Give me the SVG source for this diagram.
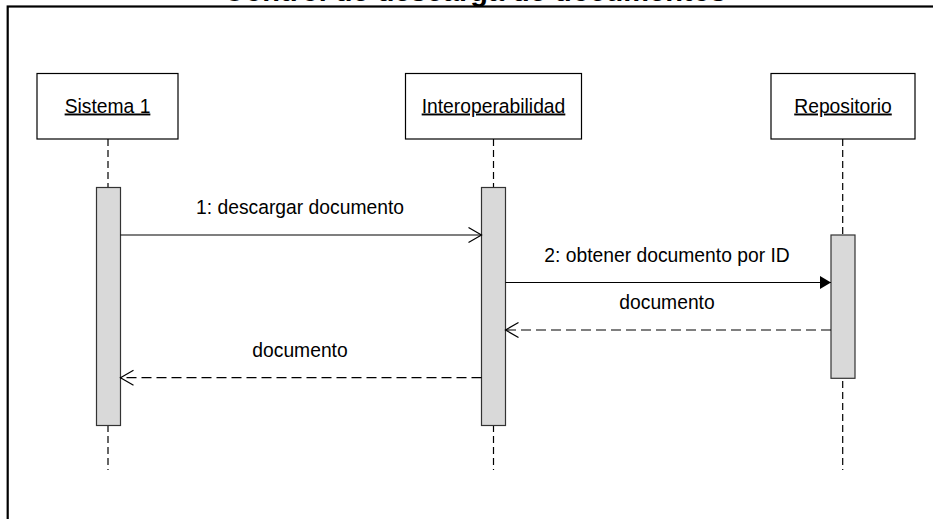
<svg xmlns="http://www.w3.org/2000/svg" width="933" height="519" viewBox="0 0 933 519">
  <style>
    .lbl { font-family: "Liberation Sans", Arial, sans-serif; font-size: 19.3px; fill: #000; }
    .obj { fill: #fff; stroke: #000; stroke-width: 1.2; }
    .life { stroke: #000; stroke-width: 1.2; stroke-dasharray: 7 4; fill: none; }
    .act { fill: #d9d9d9; stroke: #333; stroke-width: 1.2; }
    .msg { stroke: #000; stroke-width: 1.2; fill: none; }
    .ret { stroke: #000; stroke-width: 1.2; fill: none; stroke-dasharray: 10 5; }
  </style>
  <defs>
    <marker id="open" markerWidth="16" markerHeight="18" refX="14" refY="8" orient="auto" markerUnits="userSpaceOnUse">
      <path d="M1,0.5 L14,8 L1,15.5" fill="none" stroke="#000" stroke-width="1.2"/>
    </marker>
    <marker id="solid" markerWidth="14" markerHeight="16" refX="12" refY="7" orient="auto" markerUnits="userSpaceOnUse">
      <path d="M1,0.5 L12,7 L1,13.5 Z" fill="#000"/>
    </marker>
  </defs>

  <rect width="933" height="519" fill="#fff"/>

  <!-- frame and title -->
  <rect x="7.7" y="6.5" width="1000" height="600" fill="none" stroke="#000" stroke-width="2.2"/>
  <text x="475" y="0.5" text-anchor="middle" font-family="'Liberation Sans', Arial, sans-serif" font-weight="bold" font-size="29">Control de descarga de documentos</text>

  <!-- lifelines -->
  <g id="sistema1">
    <line class="life" x1="108" y1="139" x2="108" y2="470"/>
    <rect class="obj" x="37" y="73.5" width="141" height="65.5"/>
    <text class="lbl" x="107.5" y="112.5" text-anchor="middle" text-decoration="underline">Sistema 1</text>
    <rect class="act" x="96.5" y="187.5" width="24" height="238"/>
  </g>
  <g id="interoperabilidad">
    <line class="life" x1="493.5" y1="139" x2="493.5" y2="470"/>
    <rect class="obj" x="405.5" y="73.5" width="176" height="65.5"/>
    <text class="lbl" x="493.5" y="112.5" text-anchor="middle" text-decoration="underline">Interoperabilidad</text>
    <rect class="act" x="481.5" y="187.5" width="24" height="238"/>
  </g>
  <g id="repositorio">
    <line class="life" x1="842.7" y1="139" x2="842.7" y2="470"/>
    <rect class="obj" x="771" y="73.5" width="144" height="65.5"/>
    <text class="lbl" x="843" y="112.5" text-anchor="middle" text-decoration="underline">Repositorio</text>
    <rect class="act" x="831" y="235" width="24" height="143.3"/>
  </g>

  <!-- messages -->
  <g id="connectors">
    <line class="msg" x1="120.5" y1="235" x2="481.5" y2="235" marker-end="url(#open)"/>
    <text class="lbl" x="300" y="213.5" text-anchor="middle">1: descargar documento</text>

    <line class="msg" x1="505.5" y1="282.5" x2="831" y2="282.5" marker-end="url(#solid)"/>
    <text class="lbl" x="667" y="261.5" text-anchor="middle">2: obtener documento por ID</text>

    <line class="ret" x1="831" y1="330" x2="505.5" y2="330" marker-end="url(#open)"/>
    <text class="lbl" x="667" y="308.5" text-anchor="middle">documento</text>

    <line class="ret" x1="481.5" y1="377.7" x2="120.5" y2="377.7" marker-end="url(#open)"/>
    <text class="lbl" x="300" y="356.5" text-anchor="middle">documento</text>
  </g>
</svg>
